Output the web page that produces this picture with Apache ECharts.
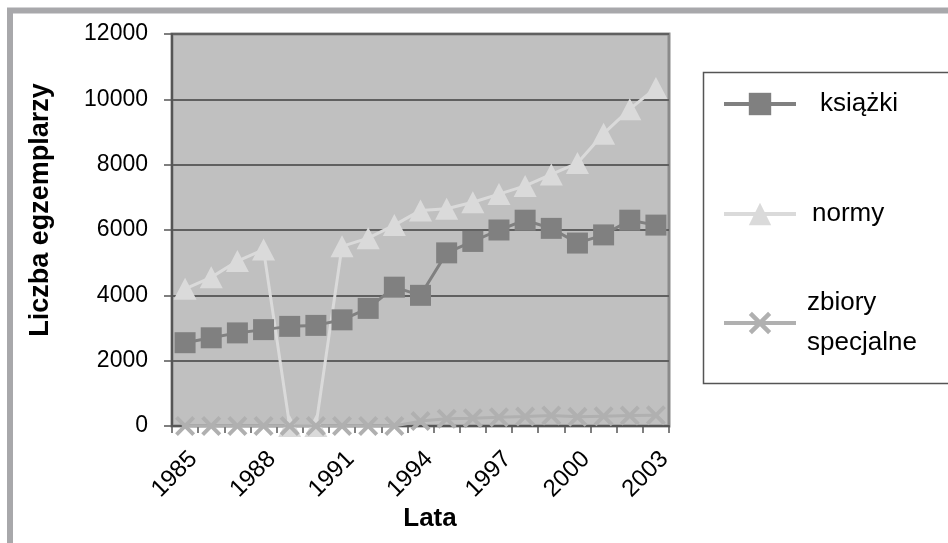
<!DOCTYPE html>
<html>
<head>
<meta charset="utf-8">
<script src="https://cdn.jsdelivr.net/npm/echarts@6/dist/echarts.min.js"></script>
<style>
html,body{margin:0;padding:0;background:#fff;}
#chart{width:948px;height:543px;}
</style>
</head>
<body>
<div id="chart"></div>
<script>
var years = ['1985','1986','1987','1988','1989','1990','1991','1992','1993','1994','1995','1996','1997','1998','1999','2000','2001','2002','2003'];
var ksiazki = [2550,2700,2850,2950,3050,3080,3250,3600,4250,4000,5300,5650,6000,6300,6050,5600,5850,6300,6150];
var normy   = [4200,4550,5050,5400,0,0,5500,5750,6150,6600,6650,6850,7100,7350,7700,8050,8950,9700,10350];
var zbiory  = [0,0,0,0,0,0,0,0,0,150,220,240,270,290,320,280,300,320,330];
var yTicks = {min:0, max:12000, interval:2000};
var seriesNames = ['książki','normy','zbiory specjalne'];

var FONT = '"Liberation Sans", Arial, sans-serif';
var xPath = 'path://M0,1.4 L1.4,0 L5,3.6 L8.6,0 L10,1.4 L6.4,5 L10,8.6 L8.6,10 L5,6.4 L1.4,10 L0,8.6 L3.6,5 Z';

var chart = echarts.init(document.getElementById('chart'), null, {renderer:'canvas'});
var legendBase = {padding:0, orient:'vertical', itemWidth:72, itemHeight:28, selectedMode:false, left:722,
  lineStyle:{width:4}};
chart.setOption({
  animation:false,
  backgroundColor:'#ffffff',
  grid:{left:172, top:34, right:279, bottom:117, show:true, backgroundColor:'#c0c0c0', borderColor:'#8a8a8a', borderWidth:3},
  xAxis:{
    type:'category', data:years, boundaryGap:true,
    axisLine:{show:true, lineStyle:{color:'#555', width:2}},
    axisTick:{show:true, interval:0, length:7, inside:false, lineStyle:{color:'#555', width:1.5}},
    axisLabel:{interval:2, rotate:45, margin:21, verticalAlign:'top', fontFamily:FONT, fontSize:24, color:'#000'},
    splitLine:{show:false}
  },
  yAxis:{
    type:'value', min:yTicks.min, max:yTicks.max, interval:yTicks.interval,
    axisLine:{show:true, lineStyle:{color:'#555', width:2}},
    axisTick:{show:true, length:8, lineStyle:{color:'#555', width:1.5}},
    axisLabel:{margin:24, fontFamily:FONT, fontSize:23, color:'#000', formatter:function(v){return String(v);}},
    splitLine:{show:true, lineStyle:{color:'#606060', width:2}}
  },
  legend:[
    Object.assign({}, legendBase, {data:[seriesNames[0]], top:90,
     textStyle:{fontFamily:FONT, fontSize:26, color:'#000', padding:[0,0,0,19], lineHeight:28}}),
    Object.assign({}, legendBase, {data:[seriesNames[1]], top:200,
     textStyle:{fontFamily:FONT, fontSize:26, color:'#000', padding:[0,0,0,11], lineHeight:28}}),
    Object.assign({}, legendBase, {data:[seriesNames[2]], top:283,
     formatter:function(){return 'zbiory\nspecjalne';},
     textStyle:{fontFamily:FONT, fontSize:26, color:'#000', padding:[0,0,0,6], lineHeight:40}})
  ],
  graphic:[
    {type:'rect', shape:{x:10, y:10.5, width:1000, height:1000}, style:{fill:'none', stroke:'#a8a8ab', lineWidth:6}, z:100},
    {type:'rect', shape:{x:703.5, y:72.5, width:400, height:311}, style:{fill:'none', stroke:'#555', lineWidth:1.5}, z:1},
    {type:'text', x:41, y:210, rotation:Math.PI/2, style:{text:'Liczba egzemplarzy', font:'bold 27px ' + FONT, fill:'#000', textAlign:'center', textVerticalAlign:'middle'}},
    {type:'text', x:430, y:519, style:{text:'Lata', font:'bold 26px ' + FONT, fill:'#000', textAlign:'center', textVerticalAlign:'middle'}}
  ],
  series:[
    {name:seriesNames[0], type:'line', data:ksiazki, symbol:'rect', symbolSize:21, showAllSymbol:true,
     lineStyle:{color:'#808080', width:3}, itemStyle:{color:'#808080'}, z:4},
    {name:seriesNames[1], type:'line', data:normy, symbol:'triangle', symbolSize:[23,22], showAllSymbol:true,
     lineStyle:{color:'#dadada', width:3}, itemStyle:{color:'#dadada'}, z:3},
    {name:seriesNames[2], type:'line', data:zbiory, symbol:xPath, symbolSize:20, showAllSymbol:true,
     lineStyle:{color:'#b0b0b0', width:3}, itemStyle:{color:'#b0b0b0'}, z:5}
  ]
});
</script>
</body>
</html>
